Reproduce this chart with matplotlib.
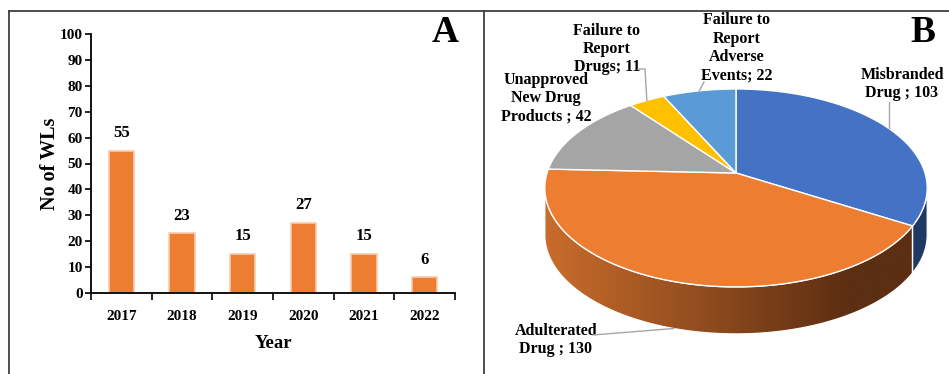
import numpy as np
import matplotlib
matplotlib.use('Agg')
import matplotlib.pyplot as plt
from matplotlib.patches import Polygon
from matplotlib.colors import LinearSegmentedColormap

# ---------------- data ----------------
years = ['2017', '2018', '2019', '2020', '2021', '2022']
wls = [55, 23, 15, 27, 15, 6]
y_ticks = [0, 10, 20, 30, 40, 50, 60, 70, 80, 90, 100]

pie_labels = ['Misbranded\nDrug ; 103', 'Adulterated\nDrug ; 130',
              'Unapproved\nNew Drug\nProducts ; 42', 'Failure to\nReport\nDrugs; 11',
              'Failure to\nReport\nAdverse\nEvents; 22']
pie_values = [103, 130, 42, 11, 22]
pie_colors = ['#4472C4', '#ED7D31', '#A5A5A5', '#FFC000', '#5B9BD5']

plt.rcParams['font.family'] = ['Liberation Serif', 'DejaVu Serif']
plt.rcParams['font.weight'] = 'bold'

W, H = 949, 374
fig = plt.figure(figsize=(W / 100, H / 100), dpi=100)
fig.patch.set_facecolor('white')

# overlay axes in pixel coordinates (for frame, 3D pie and labels)
ov = fig.add_axes([0, 0, 1, 1])
ov.set_xlim(0, W)
ov.set_ylim(H, 0)
ov.axis('off')

# frame lines
fc = '#404040'
ov.plot([9, W], [11, 11], color=fc, lw=1.3)
ov.plot([9, 9], [11, H], color=fc, lw=1.3)
ov.plot([484, 484], [11, H], color=fc, lw=1.3)

# ---------------- panel A: bar chart ----------------
ax = fig.add_axes([91 / W, (H - 293) / H, (455 - 91) / W, (293 - 34) / H])
ax.set_facecolor('none')
x = np.arange(len(years))
ax.bar(x, wls, width=0.42, color='#ED7D31', edgecolor='#F8CBAD', linewidth=1.2)
for xi, v in zip(x, wls):
    ax.annotate(str(v), (xi, v), xytext=(0, 7), textcoords='offset points',
                ha='center', va='bottom', fontsize=12, fontweight='bold')
ax.set_xlim(-0.5, len(years) - 0.5)
ax.set_ylim(0, 100)
ax.set_yticks(y_ticks)
ax.set_yticklabels([str(t) for t in y_ticks], fontsize=11, fontweight='bold')
ax.set_xticks(x)
ax.set_xticklabels(years, fontsize=11, fontweight='bold')
ax.set_xticks(np.arange(-0.5, len(years)), minor=True)
ax.tick_params(axis='x', which='major', length=0, pad=12)
ax.tick_params(axis='x', which='minor', length=5, width=1.2, direction='out')
ax.tick_params(axis='y', length=4, width=1.2, direction='out', pad=2)
for s in ['top', 'right']:
    ax.spines[s].set_visible(False)
for s in ['left', 'bottom']:
    ax.spines[s].set_linewidth(1.3)
ax.set_xlabel('Year', fontsize=13.5, fontweight='bold', labelpad=9)
ax.set_ylabel('No of WLs', fontsize=14.5, fontweight='bold', labelpad=0)
ov.text(445, 32, 'A', fontsize=27, fontweight='bold', ha='center', va='center')

# ---------------- panel B: 3D pie ----------------
cx, cy, R, B, k, D = 736, 173, 189, 96.7, 0.151, 47


def proj(theta_deg, drop=0.0):
    t = np.radians(theta_deg)
    u, w = np.sin(t), np.cos(t)
    d = 1 + k * w
    return cx + R * u / d, cy - B * w / d + drop


vals = np.array(pie_values, dtype=float)
bounds = np.concatenate([[0], np.cumsum(vals) / vals.sum() * 360])

# visible front side range
ts = np.linspace(0, 360, 3601)
sx, _ = proj(ts)
t_right = ts[np.argmax(sx)]
t_left = ts[np.argmin(sx)]

side_cmap = LinearSegmentedColormap.from_list('side', ['#C96C2C', '#5C2E12'])
side_dark = {'#4472C4': '#1F3864', '#A5A5A5': '#555555', '#FFC000': '#7F6000', '#5B9BD5': '#1F4E79'}

for i in range(len(vals)):
    a0, a1 = max(bounds[i], t_right), min(bounds[i + 1], t_left)
    if a1 <= a0:
        continue
    tt = np.linspace(a0, a1, 200)
    xt, yt = proj(tt)
    xb, yb = proj(tt[::-1], D)
    pts = np.column_stack([np.concatenate([xt, xb]), np.concatenate([yt, yb])])
    if pie_colors[i] == '#ED7D31':
        poly = Polygon(pts, closed=True, facecolor='none', edgecolor='white', lw=0.9, zorder=2)
        ov.add_patch(poly)
        grad = np.clip((np.linspace(pts[:, 0].min(), pts[:, 0].max(), 400) - 545) / (850 - 545), 0, 1)
        im = ov.imshow(grad[np.newaxis, :], cmap=side_cmap, vmin=0, vmax=1, aspect='auto',
                       extent=[pts[:, 0].min(), pts[:, 0].max(), pts[:, 1].max(), pts[:, 1].min()],
                       zorder=1.5, interpolation='bilinear')
        im.set_clip_path(poly)
    else:
        ov.add_patch(Polygon(pts, closed=True, facecolor=side_dark[pie_colors[i]],
                             edgecolor='white', lw=0.9, zorder=2))

for i in range(len(vals)):
    tt = np.linspace(bounds[i], bounds[i + 1], 200)
    xt, yt = proj(tt)
    pts = np.column_stack([np.concatenate([[cx], xt]), np.concatenate([[cy], yt])])
    ov.add_patch(Polygon(pts, closed=True, facecolor=pie_colors[i], edgecolor='white',
                         lw=1.0, zorder=3, joinstyle='round'))

ov.set_xlim(0, W)
ov.set_ylim(H, 0)

# labels + leader lines
mids = (bounds[:-1] + bounds[1:]) / 2
lc = '#A6A6A6'
lfs = 11.5
ls = 1.2
# Misbranded
mx, my = proj(mids[0])
ov.text(902, 84, pie_labels[0], ha='center', va='center', fontsize=lfs, fontweight='bold', linespacing=ls)
ov.plot([mx, mx], [102, my], color=lc, lw=1, zorder=4)
# Adulterated
mx, my = proj(mids[1], D)
ov.text(556, 340, pie_labels[1], ha='center', va='center', fontsize=lfs, fontweight='bold', linespacing=ls)
ov.plot([593, mx], [335, my], color=lc, lw=1, zorder=4)
# Unapproved
ov.text(546, 98, pie_labels[2], ha='center', va='center', fontsize=lfs, fontweight='bold', linespacing=ls)
# Failure to report drugs
mx, my = proj(mids[3])
ov.text(607, 49, pie_labels[3], ha='center', va='center', fontsize=lfs, fontweight='bold', linespacing=ls)
ov.plot([638, 645, mx], [69, 69, my], color=lc, lw=1, zorder=4)
# Adverse events
mx, my = proj(mids[4])
ov.text(737, 48, pie_labels[4], ha='center', va='center', fontsize=lfs, fontweight='bold', linespacing=ls)
ov.plot([704, mx], [82, my], color=lc, lw=1, zorder=4)

ov.text(923, 32, 'B', fontsize=27, fontweight='bold', ha='center', va='center')

fig.savefig('out.png', dpi=100)
